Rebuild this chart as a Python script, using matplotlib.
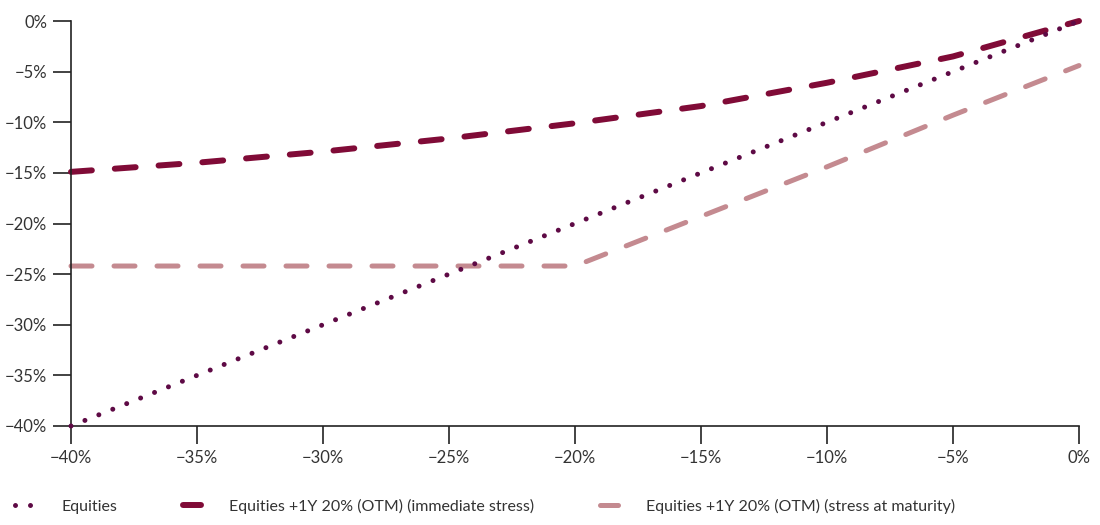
import numpy as np
import matplotlib
matplotlib.use('Agg')
import matplotlib.pyplot as plt
from matplotlib.ticker import FuncFormatter

# data (% move in equities vs portfolio P&L)
x_pct = [-40, -35, -30, -25, -20, -15, -10, -5, 0]
equities = [-40, -35, -30, -25, -20, -15, -10, -5, 0]
immediate = [-14.9, -14.0, -12.9, -11.6, -10.1, -8.4, -6.1, -3.5, 0.0]
maturity = [-24.2, -24.2, -24.2, -24.2, -24.2, -19.3, -14.4, -9.3, -4.4]

labels = ['Equities',
          'Equities +1Y 20% (OTM) (immediate stress)',
          'Equities +1Y 20% (OTM) (stress at maturity)']

c_eq = '#5e0a45'
c_imm = '#800b37'
c_mat = '#c48a90'

plt.rcParams['font.family'] = ['Lato', 'DejaVu Sans']

fig = plt.figure(figsize=(11, 5.25), dpi=100)
ax = fig.add_axes([71 / 1100, 1 - 426 / 525, (1079 - 71) / 1100, (426 - 21) / 525])

ax.plot(x_pct, equities, color=c_eq, lw=3.6, linestyle=(0, (0.001, 3.0)),
        dash_capstyle='round', label=labels[0], zorder=3)
ax.plot(x_pct, immediate, color=c_imm, lw=4.3, linestyle=(0, (3.5, 3.85)),
        dash_capstyle='round', label=labels[1], zorder=2)
ax.plot(x_pct, maturity, color=c_mat, lw=3.6, linestyle=(0, (4.2, 4.4)),
        dash_capstyle='round', label=labels[2], zorder=2)

ax.set_xlim(-40, 0)
ax.set_ylim(-40, 0)
ax.set_xticks(np.arange(-40, 1, 5))
ax.set_yticks(np.arange(-40, 1, 5))
fmt = FuncFormatter(lambda v, p: f'{v:.0f}%'.replace('-', '\u2212'))
ax.xaxis.set_major_formatter(fmt)
ax.yaxis.set_major_formatter(fmt)
for s in ['top', 'right']:
    ax.spines[s].set_visible(False)
for s in ['left', 'bottom']:
    ax.spines[s].set_linewidth(1.2)
    ax.spines[s].set_color('#222222')
ax.tick_params(axis='both', length=13, width=1.2, color='#222222',
               labelsize=12, labelcolor='#333333', pad=4)
for ln in ax.get_lines():
    ln.set_clip_on(False)

fig.legend(loc='center left', bbox_to_anchor=(15 / 1100, 1 - 506 / 525), ncol=3,
           frameon=False, fontsize=11.5, handlelength=1.15, columnspacing=4.1,
           handletextpad=1.75, borderpad=0, borderaxespad=0,
           labelcolor='#333333')

fig.savefig('out.png', dpi=100)
